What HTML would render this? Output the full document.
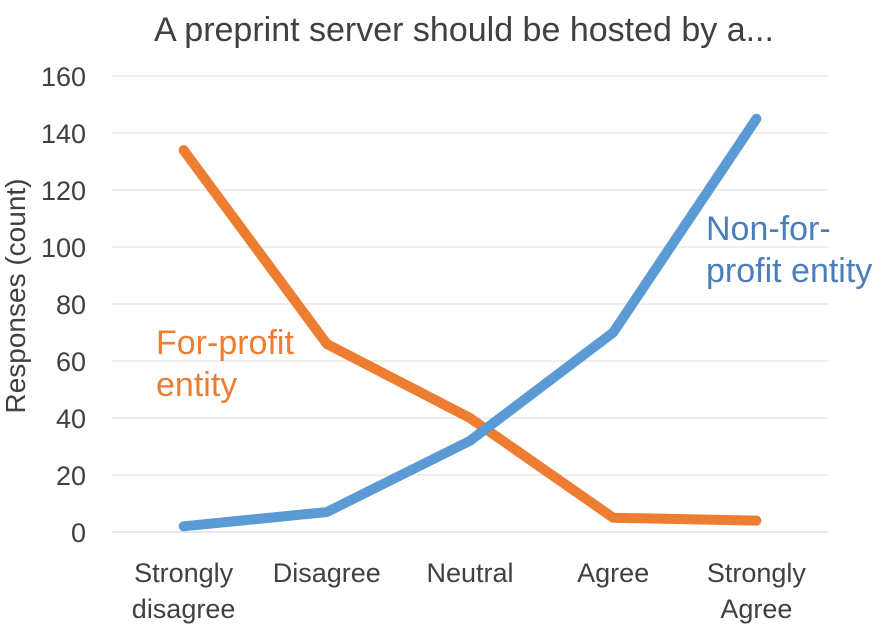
<!DOCTYPE html>
<html><head><meta charset="utf-8"><style>
html,body{margin:0;padding:0;background:#fff;width:895px;height:635px;overflow:hidden}
svg text{font-family:"Liberation Sans",sans-serif;fill:#404040}
</style></head><body>
<svg id="chart" width="895" height="635" viewBox="0 0 895 635">
<text x="464" y="41" font-size="34" text-anchor="middle">A preprint server should be hosted by a...</text>
<text transform="translate(25,296) rotate(-90)" font-size="28" text-anchor="middle">Responses (count)</text>
<g id="grid"></g><g id="yticks"></g><g id="xticks"></g><g id="series"></g>
<text x="156" y="354" font-size="34" style="fill:#ED7D31">For-profit</text>
<text x="156" y="396" font-size="34" style="fill:#ED7D31">entity</text>
<text x="706" y="240" font-size="34" style="fill:#4A7EBB">Non-for-</text>
<text x="706" y="282" font-size="34" style="fill:#4A7EBB">profit entity</text>
</svg>
<script>
const categories=[["Strongly","disagree"],["Disagree"],["Neutral"],["Agree"],["Strongly","Agree"]];
const forProfit=[134,66,40,5,4];
const nonForProfit=[2,7,32,70,145];
const yTicks=[0,20,40,60,80,100,120,140,160];
const NS="http://www.w3.org/2000/svg";
const x0=112,x1=828,y0=532,y1=76,yMax=160;
const step=(x1-x0)/categories.length;
function xs(i){return x0+step*(i+0.5);}
function ys(v){return y0-(v/yMax)*(y0-y1);}
function mk(tag,attrs,parent){const e=document.createElementNS(NS,tag);for(const k in attrs)e.setAttribute(k,attrs[k]);document.getElementById(parent).appendChild(e);return e;}
yTicks.forEach(t=>{
 const l=mk("line",{x1:x0,x2:x1,y1:ys(t),y2:ys(t),stroke:t===0?"#d9d9d9":"#e3e3e3","stroke-width":1.3},"grid");
 
 
 const tx=mk("text",{x:86,y:ys(t)+10,"font-size":27,"text-anchor":"end"},"yticks");
 tx.textContent=t;
 
 
});
categories.forEach((c,i)=>{
 c.forEach((s,j)=>{
  const tx=mk("text",{x:xs(i),y:582+j*36,"font-size":27,"text-anchor":"middle"},"xticks");
  tx.textContent=s;
  
  
 });
});
function series(arr,color,name){
 const p=mk("polyline",{points:arr.map((v,i)=>xs(i)+","+ys(v)).join(" "),fill:"none",stroke:color,"stroke-width":10,"stroke-linecap":"round","stroke-linejoin":"round"},"series");
 
 
}
series(forProfit,"#ED7D31","series-for-profit");
series(nonForProfit,"#5B9BD5","series-non-for-profit");
</script>
</body></html>
